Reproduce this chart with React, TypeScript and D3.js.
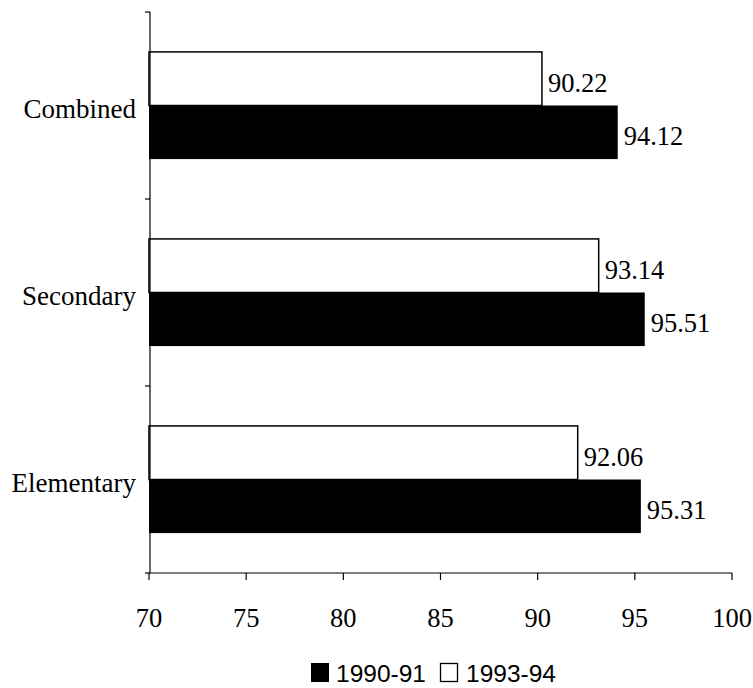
import React from "react";
import * as d3 from "d3";

const categories = ["Combined", "Secondary", "Elementary"];
const series = ["1993-94", "1990-91"];
const values1993 = [90.22, 93.14, 92.06];
const values1990 = [94.12, 95.51, 95.31];
const xTicks = [70, 75, 80, 85, 90, 95, 100];

const W = 753;
const H = 688;

export default function App() {
  const x = d3.scaleLinear().domain([70, 100]).range([149, 732]);
  const y = d3
    .scaleBand<string>()
    .domain(categories)
    .range([12, 573])
    .paddingInner(0.427)
    .paddingOuter(0.2135);
  const sub = d3.scaleBand<string>().domain(series).range([0, y.bandwidth()]);
  const serif = "'Liberation Serif', 'Times New Roman', serif";
  const sans = "'Liberation Sans', Arial, sans-serif";
  const step = y.step();
  const boundaries = categories.map((_, i) => 12 + i * step).concat([573]);

  return (
    <svg width={W} height={H} style={{ position: "absolute", left: 0, top: 0, background: "#fff" }}>
      <rect x={0} y={0} width={W} height={H} fill="#fff" />
      {categories.map((c, i) => {
        const y0 = y(c)!;
        const vals = [values1993[i], values1990[i]];
        return (
          <g key={c}>
            {series.map((s, j) => {
              const by = y0 + sub(s)!;
              const bh = sub.bandwidth();
              const v = vals[j];
              return (
                <g key={s}>
                  <rect
                    x={x(70)}
                    y={by}
                    width={x(v) - x(70)}
                    height={bh}
                    fill={j === 0 ? "#fff" : "#000"}
                    stroke="#000"
                    strokeWidth={j === 0 ? 1.5 : 0}
                  />
                  <text
                    x={x(v) + 6}
                    y={by + bh / 2 + 13}
                    fontFamily={serif}
                    fontSize={26.5}
                    fill="#000"
                  >
                    {v.toFixed(2)}
                  </text>
                </g>
              );
            })}
            <text
              x={136}
              y={y0 + y.bandwidth() / 2 + 12}
              textAnchor="end"
              fontFamily={serif}
              fontSize={27}
              fill="#000"
            >
              {c}
            </text>
          </g>
        );
      })}
      {/* y axis */}
      <line x1={150} x2={150} y1={12} y2={573} stroke="#000" strokeWidth={1.2} />
      {boundaries.map((b, i) => (
        <line key={i} x1={145} x2={150} y1={b} y2={b} stroke="#000" strokeWidth={1.2} />
      ))}
      {/* x axis */}
      <line x1={x(70)} x2={x(100)} y1={573} y2={573} stroke="#000" strokeWidth={1.2} />
      {xTicks.map((t) => (
        <g key={t}>
          <line x1={x(t)} x2={x(t)} y1={573} y2={580} stroke="#000" strokeWidth={1.2} />
          <text
            x={x(t)}
            y={627}
            textAnchor="middle"
            fontFamily={serif}
            fontSize={26.5}
            fill="#000"
          >
            {t}
          </text>
        </g>
      ))}
      {/* legend */}
      <rect x={311} y={663} width={18} height={19} fill="#000" />
      <text x={336} y={682} fontFamily={sans} fontSize={24.5} fill="#000">
        {series[1]}
      </text>
      <rect x={440.5} y={663.5} width={17} height={18} fill="#fff" stroke="#000" strokeWidth={1.3} />
      <text x={466} y={682} fontFamily={sans} fontSize={24.5} fill="#000">
        {series[0]}
      </text>
    </svg>
  );
}
